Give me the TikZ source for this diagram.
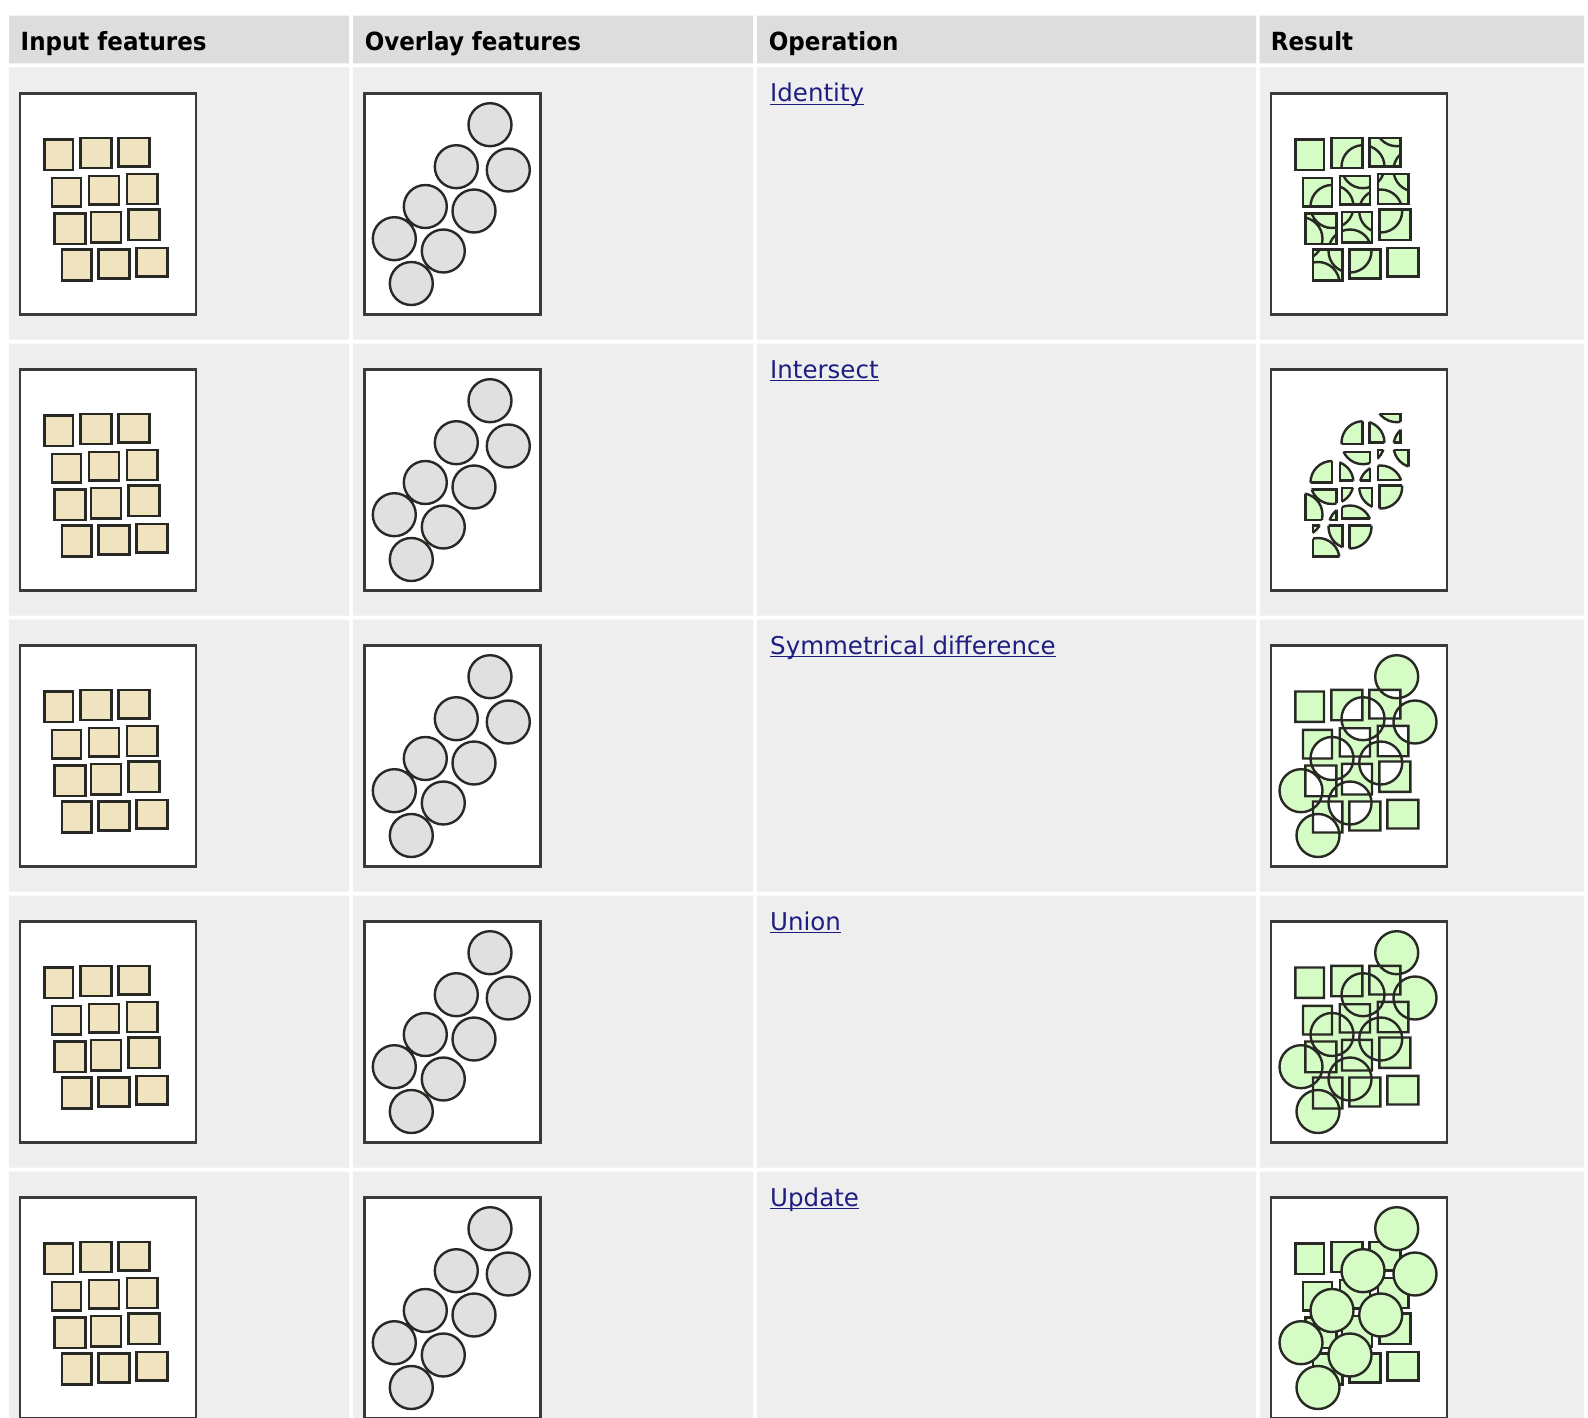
\documentclass[tikz,border=0pt]{standalone}
\usepackage{fontspec}
\setmainfont{DejaVu Sans}
\newfontfamily\headfont{DejaVu Sans}[FakeStretch=0.92]
\usetikzlibrary{positioning}

\definecolor{headgray}{RGB}{221,221,221}
\definecolor{cellgray}{RGB}{238,238,238}
\definecolor{linkblue}{RGB}{30,30,130}
\definecolor{boxline}{RGB}{58,58,58}
\definecolor{edgecol}{RGB}{40,40,36}
\definecolor{tanfill}{RGB}{240,228,192}
\definecolor{circfill}{RGB}{224,224,224}
\definecolor{resgreen}{RGB}{212,252,196}

\newcommand{\squarelist}{25.3/47/54/77.4, 61.3/45.4/92.3/75.7, 99.3/45.4/130.3/74,
  33/85.4/62/114, 69.7/83.7/100/112, 107.7/81.4/138.3/111.7,
  35.3/121/66.3/151.7, 72/119.4/102/150, 109.3/117/140.3/147.4,
  43/157/72.3/188, 79.3/157/110.3/186, 117.3/155.4/148.3/184}
\newcommand{\circlelist}{126.7/32.2, 93/74.2, 145/77.5, 62/114, 110.7/118.5, 31/146.2, 80/158.5, 48/191}
\newcommand{\squarepath}{\foreach \a/\b/\c/\d in \squarelist {(\a,\b) rectangle (\c,\d)}}
\newcommand{\circlepath}{\foreach \u/\v in \circlelist {(\u,\v) circle[radius=21.5]}}

\begin{document}
\begin{tikzpicture}[x=1pt, y=-1pt,
    panel/.style={draw=boxline, fill=white, line width=2.4pt},
    tile/.style={draw=edgecol, line width=2.4pt},
    headtext/.style={anchor=base west, inner sep=0pt, font=\headfont\bfseries\fontsize{25}{30}\selectfont},
    linktext/.style={anchor=base west, inner sep=0pt, text=linkblue, font=\fontsize{24.5}{29}\selectfont}]
    \fill[white] (0,0) rectangle (1588,1418);
    \useasboundingbox (0,0) rectangle (1588,1418);
    \clip (0,0) rectangle (1588,1418);

    % header row
    \fill[headgray] (9,15.7) rectangle (349,63.5) (353,15.7) rectangle (753,63.5)
        (757,15.7) rectangle (1256,63.5) (1259.5,15.7) rectangle (1584,63.5);
    \node[headtext] (hinput) at (20.5,50.7) {Input features};
    \node[headtext] (hoverlay) at (364.6,50.7) {Overlay features};
    \node[headtext] (hoperation) at (768.7,50.7) {Operation};
    \node[headtext] (hresult) at (1270.7,50.7) {Result};

    % one row per operation
    \foreach \op [count=\i] in {Identity, Intersect, Symmetrical difference, Union, Update} {
        \pgfmathsetmacro{\rowtop}{67.5+276*(\i-1)}
        \fill[cellgray] (9,\rowtop) rectangle (349,\rowtop+272) (353,\rowtop) rectangle (753,\rowtop+272)
            (757,\rowtop) rectangle (1256,\rowtop+272) (1259.5,\rowtop) rectangle (1584,\rowtop+272);
        \node[linktext] (op\i) at (770,\rowtop+34.5) {\op};
        \draw[linkblue, line width=1.5pt] ([yshift=-2.5pt]op\i.base west) -- ([yshift=-2.5pt]op\i.base east);
        \begin{scope}[shift={(19,\rowtop+25)}]
            \draw[panel] (1,1) rectangle (177,222);
            \filldraw[tile, fill=tanfill] \squarepath;
        \end{scope}
        \begin{scope}[shift={(363.3,\rowtop+25)}]
            \draw[panel] (1,1) rectangle (177,222);
            \filldraw[tile, fill=circfill] \circlepath;
        \end{scope}
        \begin{scope}[shift={(1270,\rowtop+25)}]
            \draw[panel] (1,1) rectangle (177,222);
            \ifcase\i\or
                \fill[resgreen] \squarepath;
                \begin{scope} \clip \squarepath; \draw[tile] \circlepath; \end{scope}
                \draw[tile] \squarepath;
            \or
                \begin{scope} \clip \squarepath; \filldraw[tile, fill=resgreen] \circlepath; \end{scope}
                \begin{scope} \clip \circlepath; \draw[tile] \squarepath; \end{scope}
            \or
                \fill[resgreen, even odd rule] \squarepath \circlepath;
                \draw[tile] \squarepath \circlepath;
            \or
                \fill[resgreen] \squarepath;
                \fill[resgreen] \circlepath;
                \draw[tile] \squarepath \circlepath;
            \or
                \filldraw[tile, fill=resgreen] \squarepath;
                \filldraw[tile, fill=resgreen] \circlepath;
            \fi
        \end{scope}
    }
\end{tikzpicture}
\end{document}
